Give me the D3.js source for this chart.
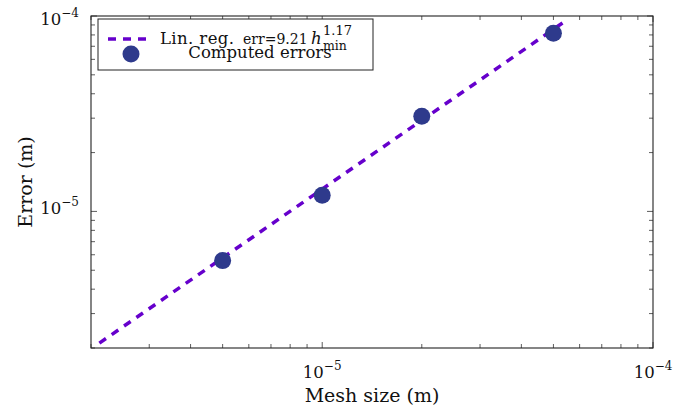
<!DOCTYPE html>
<html>
<head>
<meta charset="utf-8">
<script src="https://cdn.jsdelivr.net/npm/d3@7"></script>
<style>
  body { margin: 0; background: #fff; }
  svg { display: block; }
  text { font-family: "DejaVu Serif", "Liberation Serif", serif; fill: #111; }
</style>
</head>
<body>
<svg id="chart" width="674" height="412"></svg>
<script>
// ---- data ----
const meshSizes = [5e-6, 1e-5, 2e-5, 5e-5];
const errors = [5.6e-6, 1.21e-5, 3.07e-5, 8.15e-5];
const regCoef = 9.21;
const regExp = 1.17;
const regDomain = [2.12e-6, 5.4e-5];
const xTickValues = [1e-5, 1e-4];
const yTickValues = [1e-5, 1e-4];
const xDomain = [2e-6, 1e-4];
const yDomain = [2e-6, 1e-4];

// ---- layout ----
const svg = d3.select("#chart");
const L = 91, R = 653, T = 16, B = 348;
const x = d3.scaleLog().domain(xDomain).range([L, R]);
const y = d3.scaleLog().domain(yDomain).range([B, T]);
const axisColor = "#333";

svg.append("defs").append("clipPath").attr("id", "clip")
  .append("rect").attr("x", L).attr("y", T).attr("width", R - L).attr("height", B - T);

function logTicks(domain) {
  const out = [];
  for (let e = -7; e <= -3; e++) {
    for (let m = 1; m <= 9; m++) {
      const v = m * Math.pow(10, e);
      if (v >= domain[0] * 0.9999 && v <= domain[1] * 1.0001) out.push({v, major: m === 1});
    }
  }
  return out;
}
const g = svg.append("g");
const MAJ = 6, MIN = 4;
logTicks(xDomain).forEach(t => {
  const px = x(t.v), len = t.major ? MAJ : MIN;
  g.append("line").attr("x1", px).attr("x2", px).attr("y1", B).attr("y2", B - len).attr("stroke", axisColor).attr("stroke-width", 0.8);
  g.append("line").attr("x1", px).attr("x2", px).attr("y1", T).attr("y2", T + len).attr("stroke", axisColor).attr("stroke-width", 0.8);
});
logTicks(yDomain).forEach(t => {
  const py = y(t.v), len = t.major ? MAJ : MIN;
  g.append("line").attr("x1", L).attr("x2", L + len).attr("y1", py).attr("y2", py).attr("stroke", axisColor).attr("stroke-width", 0.8);
  g.append("line").attr("x1", R).attr("x2", R - len).attr("y1", py).attr("y2", py).attr("stroke", axisColor).attr("stroke-width", 0.8);
});

svg.append("rect").attr("x", L).attr("y", T).attr("width", R - L).attr("height", B - T)
  .attr("fill", "none").attr("stroke", "#222").attr("stroke-width", 1.1);

function powLabel(sel, v) {
  const e = Math.round(Math.log10(v));
  sel.append("tspan").attr("font-size", 16.5).text("10");
  sel.append("tspan").attr("font-size", 12).attr("dy", -8).text("\u2212" + Math.abs(e));
}
xTickValues.forEach(v => {
  const t = svg.append("text").attr("x", x(v)).attr("y", B + 30).attr("text-anchor", "middle");
  powLabel(t, v);
});
yTickValues.forEach(v => {
  const off = y(v) - T < 5 ? 9 : 3;
  const t = svg.append("text").attr("x", L - 12).attr("y", y(v) + off).attr("text-anchor", "end");
  powLabel(t, v);
});

svg.append("text").attr("x", 372).attr("y", 402).attr("text-anchor", "middle")
  .attr("font-size", 19).text("Mesh size (m)");
svg.append("text").attr("transform", `translate(32,182) rotate(-90)`)
  .attr("text-anchor", "middle").attr("font-size", 19).text("Error (m)");

const lineColor = "#6600cc";
const regPts = regDomain.map(h => [h, regCoef * Math.pow(h, regExp)]);
svg.append("path").attr("clip-path", "url(#clip)")
  .attr("d", d3.line().x(d => x(d[0])).y(d => y(d[1]))(regPts))
  .attr("fill", "none").attr("stroke", lineColor).attr("stroke-width", 3.5)
  .attr("stroke-dasharray", "8,7");

const markColor = "#2e3a8c";
svg.append("g").selectAll("circle").data(meshSizes.map((h, i) => [h, errors[i]]))
  .join("circle").attr("cx", d => x(d[0])).attr("cy", d => y(d[1])).attr("r", 8.5)
  .attr("fill", markColor);

// legend
const lg = svg.append("g");
lg.append("rect").attr("x", 98).attr("y", 19).attr("width", 275).attr("height", 51)
  .attr("fill", "#fff").attr("stroke", "#222").attr("stroke-width", 1);
lg.append("line").attr("x1", 108).attr("x2", 148).attr("y1", 39).attr("y2", 39)
  .attr("stroke", lineColor).attr("stroke-width", 3.5).attr("stroke-dasharray", "8,7");
lg.append("circle").attr("cx", 131).attr("cy", 54).attr("r", 8.5).attr("fill", markColor);
lg.append("text").attr("x", 160).attr("y", 44).attr("font-size", 16.5)
  .attr("textLength", 74).attr("lengthAdjust", "spacing").text("Lin. reg.");
lg.append("text").attr("x", 243).attr("y", 44).attr("font-size", 14).text("err=9.21");
lg.append("text").attr("x", 311).attr("y", 44).attr("font-size", 16.5).attr("font-style", "italic").text("h");
lg.append("text").attr("x", 323).attr("y", 35).attr("font-size", 13).text("1.17");
lg.append("text").attr("x", 323).attr("y", 50).attr("font-size", 12.5).text("min");
lg.append("text").attr("x", 260).attr("y", 58).attr("text-anchor", "middle").attr("font-size", 16.5).text("Computed errors");
</script>
</body>
</html>
